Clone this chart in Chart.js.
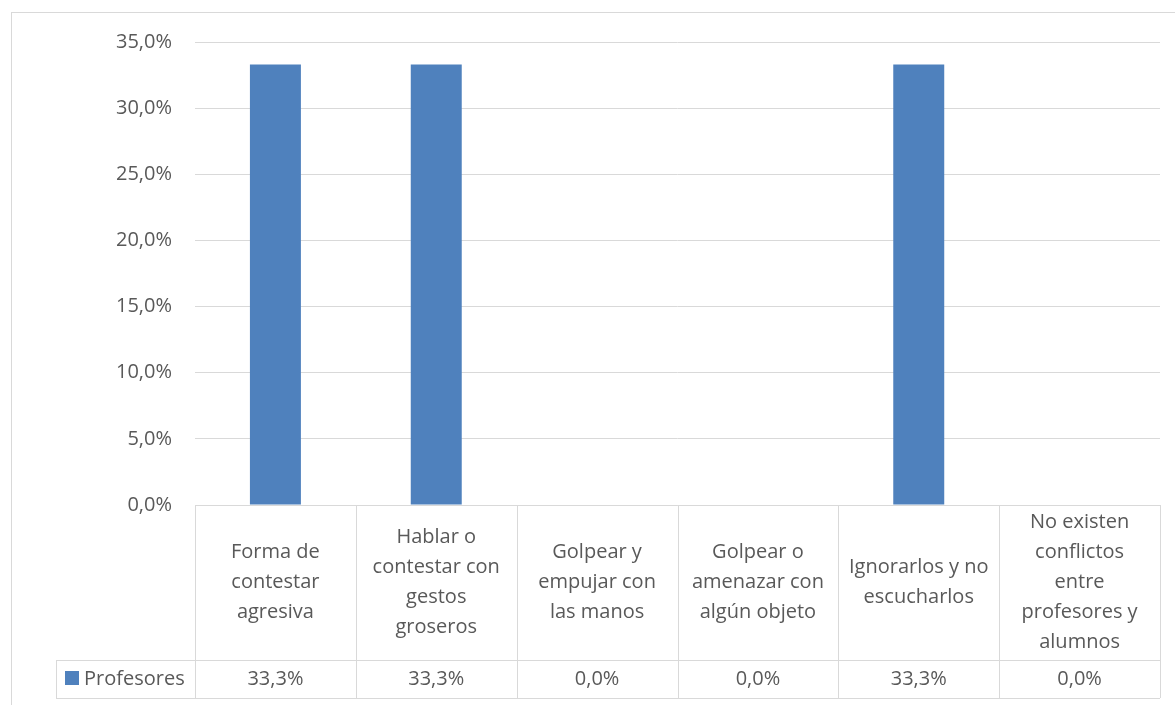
<!DOCTYPE html>
<html>
<head>
<meta charset="utf-8">
<script src="https://cdn.jsdelivr.net/npm/chart.js@4.4.0/dist/chart.umd.min.js"></script>
<style>
  html, body { margin: 0; padding: 0; background: #ffffff; }
  #wrap { width: 1175px; height: 705px; }
</style>
</head>
<body>
<div id="wrap"><canvas id="chart" width="1175" height="705"></canvas></div>
<script>
/* Conflictos profesores — column chart with Excel-style data table */

var categories = [
  ['Forma de', 'contestar', 'agresiva'],
  ['Hablar o', 'contestar con', 'gestos', 'groseros'],
  ['Golpear y', 'empujar con', 'las manos'],
  ['Golpear o', 'amenazar con', 'algún objeto'],
  ['Ignorarlos y no', 'escucharlos'],
  ['No existen', 'conflictos', 'entre', 'profesores y', 'alumnos']
];
var seriesName = 'Profesores';
var profesores = [0.333, 0.333, 0, 0, 0.333, 0];
var yTicks = [0, 0.05, 0.10, 0.15, 0.20, 0.25, 0.30, 0.35];

var TEXT = '#595959';
var GRID = '#d9d9d9';
var BLUE = '#4f81bd';
var FONT = '"Open Sans", "Noto Sans", sans-serif';

function pct(v) {
  return (v * 100).toFixed(1).replace('.', ',') + '%';
}

var tablePlugin = {
  id: 'dataTable',
  beforeDraw: function(chart) {
    var ctx = chart.ctx;
    ctx.save();
    ctx.fillStyle = '#ffffff';
    ctx.fillRect(0, 0, chart.width, chart.height);
    ctx.strokeStyle = GRID;
    ctx.lineWidth = 1;
    ctx.strokeRect(11.5, 12.5, 1300, 900);
    ctx.restore();
  },
  afterDatasetsDraw: function(chart) {
    var ctx = chart.ctx;
    var area = chart.chartArea;
    var x = chart.scales.x;
    var n = categories.length;
    var cw = (area.right - area.left) / n;
    var top = area.bottom;
    var rowTop = top + 155;
    var rowBot = rowTop + 38;
    var legLeft = 56;

    ctx.save();
    ctx.strokeStyle = GRID;
    ctx.lineWidth = 1;
    ctx.beginPath();
    // horizontal lines
    ctx.moveTo(area.left, Math.round(top) + 0.5);
    ctx.lineTo(area.right, Math.round(top) + 0.5);
    ctx.moveTo(legLeft, rowTop + 0.5);
    ctx.lineTo(area.right, rowTop + 0.5);
    ctx.moveTo(legLeft, rowBot + 0.5);
    ctx.lineTo(area.right, rowBot + 0.5);
    // vertical lines
    for (var i = 0; i <= n; i++) {
      var vx = Math.round(area.left + i * cw) + 0.5;
      ctx.moveTo(vx, top);
      ctx.lineTo(vx, rowBot);
    }
    ctx.moveTo(legLeft + 0.5, rowTop);
    ctx.lineTo(legLeft + 0.5, rowBot);
    ctx.stroke();

    ctx.fillStyle = TEXT;
    ctx.font = '20px ' + FONT;
    ctx.textAlign = 'center';
    ctx.textBaseline = 'middle';
    var lh = 30;
    var midHead = (top + rowTop) / 2;
    categories.forEach(function(lines, i) {
      var cx = x.getPixelForValue(i);
      var y0 = midHead - (lines.length - 1) * lh / 2;
      lines.forEach(function(t, k) {
        ctx.fillText(t, cx, y0 + k * lh);
      });
      ctx.fillText(pct(profesores[i]), cx, (rowTop + rowBot) / 2);
    });

    // legend key
    ctx.fillStyle = BLUE;
    ctx.fillRect(65, rowTop + 11, 14, 14);
    ctx.fillStyle = TEXT;
    ctx.textAlign = 'left';
    ctx.fillText(seriesName, 84, (rowTop + rowBot) / 2);
    ctx.restore();
  }
};

new Chart(document.getElementById('chart'), {
  type: 'bar',
  data: {
    labels: categories,
    datasets: [{
      label: seriesName,
      data: profesores,
      backgroundColor: BLUE,
      borderWidth: 0,
      barPercentage: 0.317,
      categoryPercentage: 1
    }]
  },
  options: {
    responsive: false,
    animation: false,
    layout: { padding: { left: 0, top: 42, right: 15, bottom: 200 } },
    plugins: {
      legend: { display: false },
      tooltip: { enabled: false }
    },
    scales: {
      x: { display: false },
      y: {
        min: 0,
        max: 0.35,
        afterFit: function(scale) { scale.width = 195; },
        afterBuildTicks: function(scale) {
          scale.ticks = yTicks.map(function(v) { return { value: v }; });
        },
        border: { display: false },
        grid: { color: GRID, lineWidth: 1, drawTicks: false },
        ticks: {
          padding: 23,
          color: TEXT,
          font: { family: FONT, size: 20 },
          callback: function(v) { return pct(v); }
        }
      }
    }
  },
  plugins: [tablePlugin]
});
</script>
</body>
</html>
